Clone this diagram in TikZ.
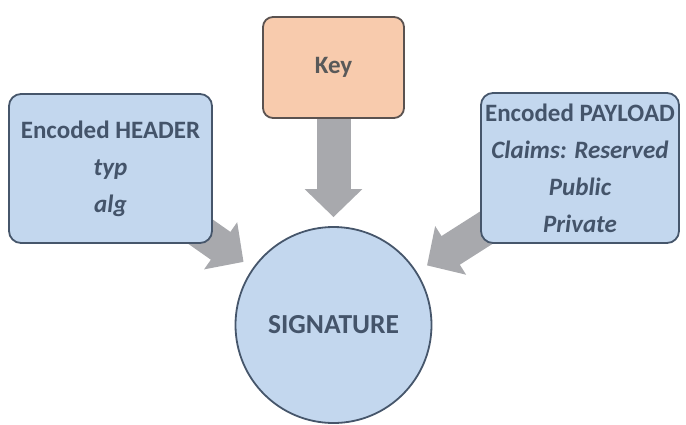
\documentclass[tikz,border=0pt]{standalone}
\usepackage{fontspec}
\setmainfont{Carlito}
\usetikzlibrary{arrows.meta,backgrounds}
\definecolor{boxblue}{HTML}{C3D7EE}
\definecolor{boxline}{HTML}{46566B}
\definecolor{txt}{HTML}{44546A}
\definecolor{keyfill}{HTML}{F8CBAD}
\definecolor{keyline}{HTML}{5A5250}
\definecolor{keytxt}{HTML}{595959}
\definecolor{arrowgray}{HTML}{A8A9AD}
\begin{document}
\begin{tikzpicture}[x=1pt,y=-1pt,
  blkbox/.style={draw=boxline, fill=boxblue, line width=1.8pt, rounded corners=12pt,
    align=center, inner sep=0pt, text=txt, font=\fontsize{25}{37}\selectfont\bfseries},
  keybox/.style={blkbox, draw=keyline, fill=keyfill, text=keytxt, rounded corners=10pt},
  sigcircle/.style={blkbox, circle, font=\fontsize{27.5}{33}\selectfont\bfseries},
  bigarrow/.style={draw=arrowgray, line width=34pt, -{Triangle[length=28pt,width=56pt]}}]
\useasboundingbox (0,0) rectangle (686,424);
\node[blkbox, minimum width=203pt, minimum height=149pt] (header) at (110.5,168.5)
  {Encoded HEADER\\{\itshape typ}\\{\itshape alg}};
\node[keybox, minimum width=141pt, minimum height=101pt] (key) at (333.5,67.5) {Key};
\node[blkbox, minimum width=198pt, minimum height=150pt] (payload) at (580,168)
  {Encoded PAYLOAD\\{\itshape Claims: Reserved}\\{\itshape Public}\\{\itshape Private}};
\node[sigcircle, minimum size=196pt] (sig) at (333.5,325) {SIGNATURE};
\begin{scope}[on background layer]
  \draw[bigarrow, shorten >=9pt] (key.center) -- (sig);
  \draw[bigarrow, shorten >=11pt] (header.center) -- (sig);
  \draw[bigarrow, shorten >=12pt] (payload.center) -- (sig);
\end{scope}
\end{tikzpicture}
\end{document}
